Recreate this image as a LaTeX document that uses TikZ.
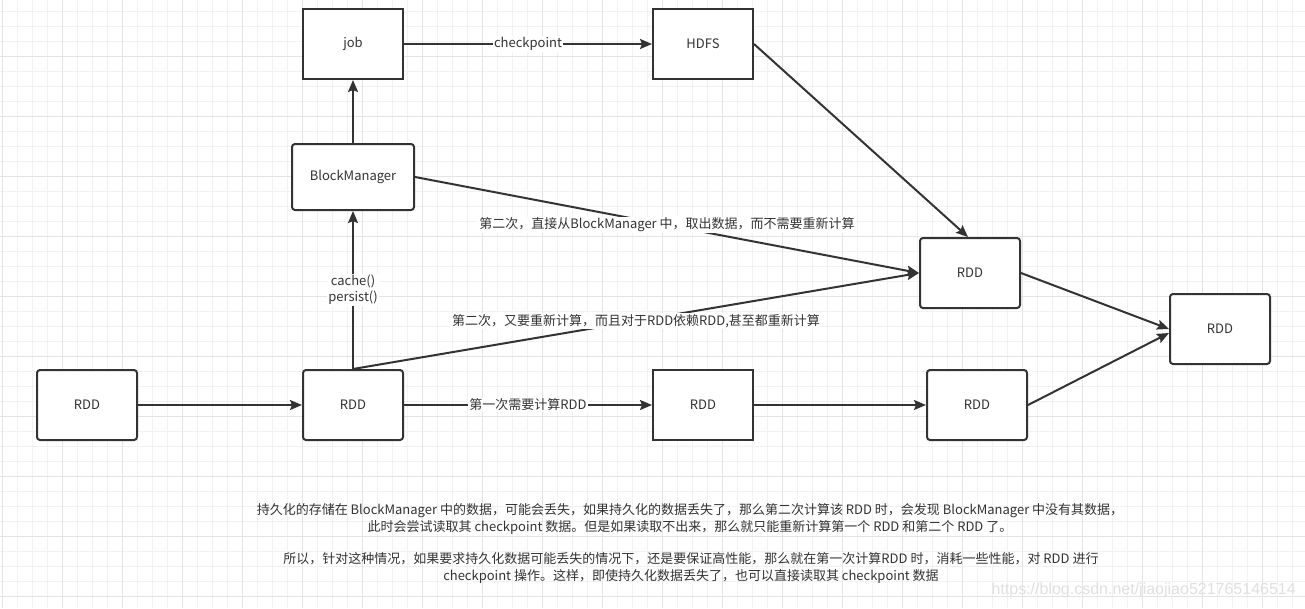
\documentclass[tikz,border=0pt]{standalone}
\usepackage{fontspec}
\setmainfont{Noto Sans CJK SC}
\newfontfamily\wmfont{Liberation Sans}
\usetikzlibrary{arrows.meta}
\definecolor{ink}{HTML}{333333}
\definecolor{gridminor}{HTML}{F2F2F2}
\definecolor{gridmajor}{HTML}{E4E4E4}
\definecolor{wm}{HTML}{E0E0E0}
\tikzset{
  box/.style={draw=ink, line width=2pt, fill=white, minimum width=100pt, minimum height=70pt, inner sep=0pt, text=ink, font=\fontsize{13}{16}\selectfont},
  rbox/.style={box, rounded corners=3pt},
  conn/.style={draw=ink, line width=2pt, -{Stealth[length=12pt, width=10pt, inset=2pt]}},
  lbl/.style={fill=white, inner sep=1pt, text=ink, font=\fontsize{13}{16}\selectfont},
  note/.style={text=ink, font=\fontsize{13}{16.5}\selectfont, align=center, inner sep=0pt}
}
\begin{document}
\begin{tikzpicture}[x=1pt, y=-1pt]
\useasboundingbox (0,0) rectangle (1305,608);
\fill[white] (0,0) rectangle (1305,608);
% grid
\foreach \gx in {2,17,...,1305} { \draw[gridminor, line width=0.8pt] (\gx,0) -- (\gx,608); }
\foreach \gy in {11,26,...,608} { \draw[gridminor, line width=0.8pt] (0,\gy) -- (1305,\gy); }
\foreach \gx in {2,62,...,1305} { \draw[gridmajor, line width=0.8pt] (\gx,0) -- (\gx,608); }
\foreach \gy in {56,116,...,608} { \draw[gridmajor, line width=0.8pt] (0,\gy) -- (1305,\gy); }

% nodes
\node[box] (job) at (353,44) {job};
\node[box] (hdfs) at (703,44) {HDFS};
\node[rbox, minimum width=122pt, minimum height=66pt] (bm) at (353,177) {BlockManager};
\node[rbox] (rddm) at (970,273) {RDD};
\node[rbox] (rddr) at (1220,329) {RDD};
\node[rbox] (rdd1) at (87,405) {RDD};
\node[rbox] (rdd2) at (353,405) {RDD};
\node[box] (rdd3) at (703,405) {RDD};
\node[rbox] (rdd4) at (977,405) {RDD};

% connectors
\draw[conn] (job.east) -- node[lbl] {checkpoint} (hdfs.west);
\draw[conn] (bm.north) -- (job.south);
\draw[conn] (rdd2.north) -- node[lbl, align=center, font=\fontsize{13}{16}\selectfont] {cache()\\persist()} (bm.south);
\draw[conn] (hdfs.east) -- ([xshift=-2pt]rddm.north);
\draw[conn] (bm.east) -- node[lbl] {第二次，直接从BlockManager 中，取出数据，而不需要重新计算} (rddm.west);
\draw[conn] (rdd2.north) -- node[lbl] {第二次，又要重新计算，而且对于RDD依赖RDD,甚至都重新计算} (rddm.west);
\draw[conn] (rdd1.east) -- (rdd2.west);
\draw[conn] (rdd2.east) -- node[lbl] {第一次需要计算RDD} (rdd3.west);
\draw[conn] (rdd3.east) -- (rdd4.west);
\draw[conn] (rddm.east) -- (rddr.west);
\draw[conn] (rdd4.east) -- ([yshift=-4pt]rddr.west);

% notes
\node[note] (n1) at (690,519) {持久化的存储在 BlockManager 中的数据，可能会丢失，如果持久化的数据丢失了，那么第二次计算该 RDD 时，会发现 BlockManager 中没有其数据，\\此时会尝试读取其 checkpoint 数据。但是如果读取不出来，那么就只能重新计算第一个 RDD 和第二个 RDD 了。};
\node[note] (n2) at (691,568) {所以，针对这种情况，如果要求持久化数据可能丢失的情况下，还是要保证高性能，那么就在第一次计算RDD 时，消耗一些性能，对 RDD 进行\\checkpoint 操作。这样，即使持久化数据丢失了，也可以直接读取其 checkpoint 数据};
\node[text=wm, font=\wmfont\fontsize{16}{18}\selectfont, inner sep=0pt, anchor=east] (wmk) at (1296,590) {https://blog.csdn.net/jiaojiao521765146514};
\end{tikzpicture}
\end{document}
